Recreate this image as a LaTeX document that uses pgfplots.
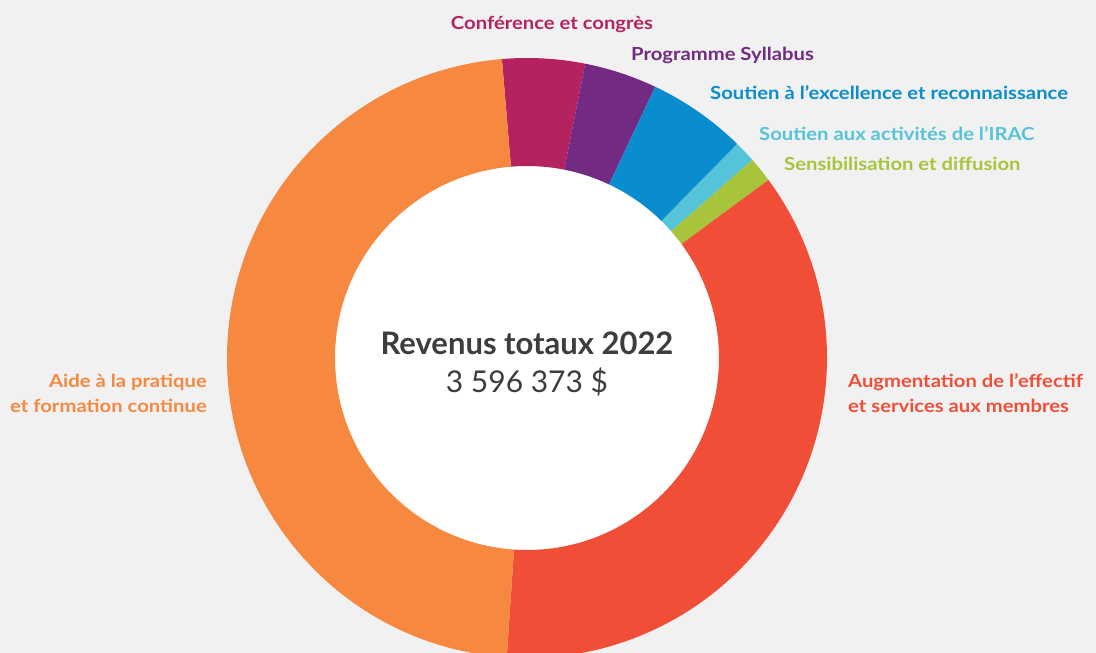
\documentclass[border=0pt]{standalone}
\usepackage{graphicx}
\usepackage{pgfplots}
\pgfplotsset{compat=1.18}
\usepackage{pgfplotstable}
\usepackage{fontspec}
\setmainfont{Lato}
\definecolor{bg}{HTML}{F1F1F1}
\definecolor{txt}{HTML}{3D3D3D}
\definecolor{cConf}{HTML}{B42260}
\definecolor{cSyl}{HTML}{722A83}
\definecolor{cExc}{HTML}{098DCF}
\definecolor{cIrac}{HTML}{56C4D8}
\definecolor{cSens}{HTML}{A8C43A}
\definecolor{cAug}{HTML}{F04E37}
\definecolor{cAide}{HTML}{F68840}
\newcommand{\lab}[1]{\scalebox{1.125}[1]{#1}}

% parts of the 2022 revenue, percent, clockwise from the top
\pgfplotstableread{
share col
4.44  cConf
3.92  cSyl
5.33  cExc
1.17  cIrac
1.36  cSens
36.19 cAug
47.59 cAide
}\shares

\begin{document}
\begin{tikzpicture}
\begin{axis}[x=1pt,y=1pt,xmin=0,xmax=1096,ymin=0,ymax=653,
    anchor=origin,axis lines=none,clip=true,clip bounding box=upper bound]
\fill[bg] (axis cs:0,0) rectangle (axis cs:1096,653);
\def\cx{527}\def\cy{295}\def\Ro{300}\def\Ri{192}
\fill[white] (axis cs:\cx,\cy) circle[radius=\Ri pt];
\pgfplotstablegetrowsof{\shares}
\pgfmathtruncatemacro{\nrows}{\pgfplotsretval-1}
\xdef\angA{94.8}
\pgfplotsforeachungrouped \i in {0,...,\nrows}{%
  \pgfplotstablegetelem{\i}{share}\of{\shares}\let\v\pgfplotsretval
  \pgfplotstablegetelem{\i}{col}\of{\shares}\let\c\pgfplotsretval
  \pgfmathsetmacro{\angB}{\angA-3.6*\v}
  \pgfmathsetmacro{\xa}{\cx+\Ro*cos(\angA)}
  \pgfmathsetmacro{\ya}{\cy+\Ro*sin(\angA)}
  \pgfmathsetmacro{\xb}{\cx+\Ri*cos(\angB)}
  \pgfmathsetmacro{\yb}{\cy+\Ri*sin(\angB)}
  \edef\temp{\noexpand\fill[\c] (axis cs:\xa,\ya)
    arc[start angle=\angA,end angle=\angB,radius=\Ro pt]
    -- (axis cs:\xb,\yb)
    arc[start angle=\angB,end angle=\angA,radius=\Ri pt] -- cycle;}
  \temp
  \xdef\angA{\angB}
}
\tikzset{lab/.style={inner sep=0pt,font=\fontsize{18}{21}\bfseries}}
\node[lab,cConf,anchor=base] at (axis cs:552,623) {\lab{Conférence et congrès}};
\node[lab,cSyl,anchor=base west] at (axis cs:631,592) {\lab{Programme Syllabus}};
\node[lab,cExc,anchor=base west] at (axis cs:710,553) {\lab{Soutien à l’excellence et reconnaissance}};
\node[lab,cIrac,anchor=base west] at (axis cs:759,512) {\lab{Soutien aux activités de l’IRAC}};
\node[lab,cSens,anchor=base west] at (axis cs:784,482) {\lab{Sensibilisation et diffusion}};
\node[lab,cAide,anchor=base east] at (axis cs:207,265) {\lab{Aide à la pratique}};
\node[lab,cAide,anchor=base east] at (axis cs:207,240) {\lab{et formation continue}};
\node[lab,cAug,anchor=base west] at (axis cs:848,265) {\lab{Augmentation de l’effectif}};
\node[lab,cAug,anchor=base west] at (axis cs:848,240) {\lab{et services aux membres}};
\node[inner sep=0pt,txt,anchor=base,font=\fontsize{31}{34}\bfseries] at (axis cs:527,298) {Revenus totaux 2022};
\node[inner sep=0pt,txt,anchor=base,font=\fontsize{30}{32}\selectfont] at (axis cs:527,260) {3 596 373 \$};
\end{axis}
\end{tikzpicture}
\end{document}
